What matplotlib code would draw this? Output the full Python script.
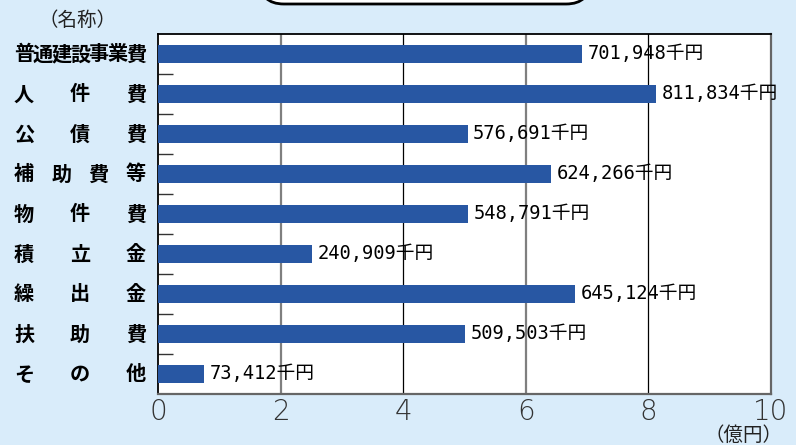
import matplotlib.pyplot as plt
from matplotlib.patches import FancyBboxPatch
from matplotlib.transforms import blended_transform_factory

# data
categories = ["普通建設事業費", "人件費", "公債費", "補助費等", "物件費",
              "積立金", "繰出金", "扶助費", "その他"]
bar_values = [6.92, 8.13, 5.05, 6.41, 5.06, 2.51, 6.81, 5.01, 0.75]  # 億円, as drawn
value_labels = ["701,948千円", "811,834千円", "576,691千円", "624,266千円",
                "548,791千円", "240,909千円", "645,124千円", "509,503千円",
                "73,412千円"]
x_ticks = [0, 2, 4, 6, 8, 10]

BG = "#d9ecfa"
BAR = "#2857a3"
W, H = 796, 445

fig = plt.figure(figsize=(W / 100, H / 100), dpi=100, facecolor=BG)
ax = fig.add_axes([158 / W, 1 - 394 / H, 613 / W, 360 / H])
ax.set_facecolor("white")

ypos = list(range(len(categories)))
ax.barh(ypos, bar_values, height=0.46, color=BAR, zorder=3)

ax.set_xlim(0, 10)
ax.set_ylim(len(categories) - 0.5, -0.5)

# vertical grid lines: 2 and 6 gray, 4 and 8 thin black
for x in [2, 6]:
    ax.axvline(x, color="#7f7f7f", lw=1.6, zorder=1)
for x in [4, 8]:
    ax.axvline(x, color="black", lw=0.9, zorder=1)

for sp in ["top", "left"]:
    ax.spines[sp].set_color("black")
    ax.spines[sp].set_linewidth(1.3)
for sp in ["right", "bottom"]:
    ax.spines[sp].set_color("#666666")
    ax.spines[sp].set_linewidth(1.6)

ax.set_yticks([])
ax.set_yticks([i + 0.5 for i in range(len(categories) - 1)], minor=True)
ax.tick_params(axis="y", which="minor", direction="in", length=11,
               width=1.0, color="#333333")
ax.set_xticks(x_ticks)
ax.set_xticklabels([str(t) for t in x_ticks], fontsize=20,
                   family="DejaVu Sans", fontweight="light", color="#333333")
ax.tick_params(axis="x", length=0, pad=3)

# value labels at bar ends
for y, v, lab in zip(ypos, bar_values, value_labels):
    ax.annotate(lab, (v, y), xytext=(4, 0), textcoords="offset points",
                va="center", ha="left", fontsize=13.5,
                family=["DejaVu Sans Mono", "Noto Sans CJK JP"], zorder=4)

# category labels, characters spread across the label column
tr = blended_transform_factory(fig.transFigure, ax.transData)
for y, name in zip(ypos, categories):
    n = len(name)
    for k, ch in enumerate(name):
        cx = 24 + (136 - 24) * k / (n - 1)
        ax.text(cx / W, y, ch, transform=tr, ha="center", va="center",
                fontsize=14.5, fontweight="bold", family="Noto Sans CJK JP",
                clip_on=False)

fig.text(78 / W, 1 - 20 / H, "（名称）", ha="center", va="center",
         fontsize=14, family="Noto Sans CJK JP", color="#222222")
fig.text(743 / W, 1 - 435 / H, "（億円）", ha="center", va="center",
         fontsize=14, family="Noto Sans CJK JP", color="#222222")

# rounded title box cut off at the top edge
box = FancyBboxPatch((260 / W, 1 - 4 / H), 330 / W, 60 / H,
                     boxstyle="round,pad=0,rounding_size=0.03",
                     transform=fig.transFigure, facecolor="white",
                     edgecolor="black", lw=2, mutation_aspect=W / H)
fig.patches.append(box)

fig.savefig("out.png", dpi=100, facecolor=BG)
